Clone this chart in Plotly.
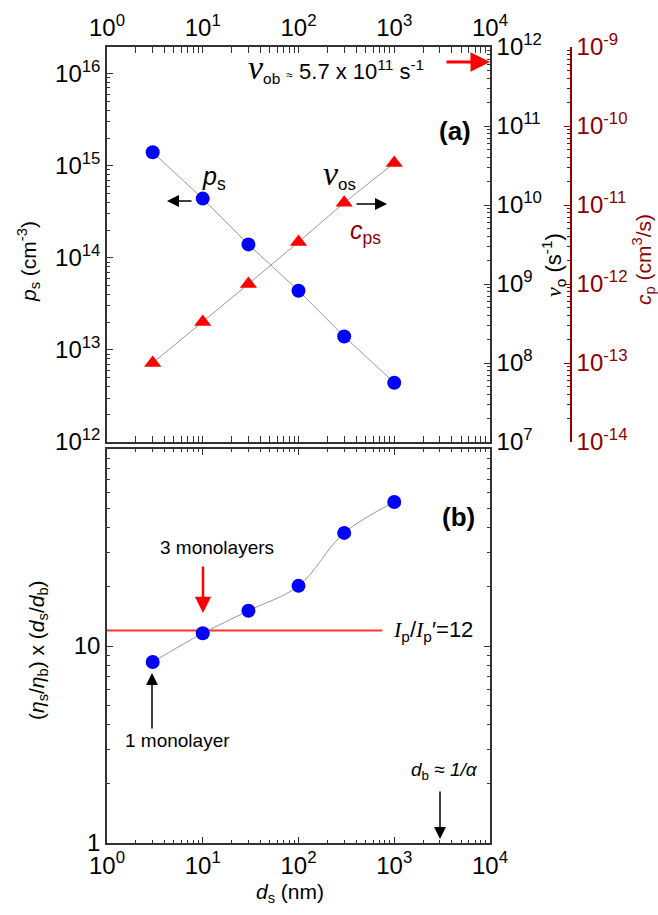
import plotly.graph_objects as go

# ---------------- data ----------------
d_s = [3, 10, 30, 100, 300, 1000]                      # nm
p_s = [1.4e15, 4.4e14, 1.4e14, 4.4e13, 1.4e13, 4.4e12]  # cm^-3
nu_os = [1.0e8, 3.3e8, 1.0e9, 3.4e9, 1.07e10, 3.4e10]  # s^-1
c_ps = [v * 1e-21 for v in nu_os]                      # cm^3/s (axis aligned)
ratio = [8.3, 11.6, 15.1, 20.2, 37.5, 53.8]            # (eta_s/eta_b) x (d_s/d_b)
ip_ratio = 12
ip_line_x = [1, 750]

x_tickvals = [1, 10, 100, 1000, 10000]
x_ticktext = ["10<sup>0</sup>", "10<sup>1</sup>", "10<sup>2</sup>", "10<sup>3</sup>", "10<sup>4</sup>"]
p_tickvals = [1e12, 1e13, 1e14, 1e15, 1e16]
p_ticktext = ["10<sup>12</sup>", "10<sup>13</sup>", "10<sup>14</sup>", "10<sup>15</sup>", "10<sup>16</sup>"]
nu_tickvals = [1e7, 1e8, 1e9, 1e10, 1e11, 1e12]
nu_ticktext = ["10<sup>7</sup>", "10<sup>8</sup>", "10<sup>9</sup>", "10<sup>10</sup>", "10<sup>11</sup>", "10<sup>12</sup>"]
cp_tickvals = [1e-14, 1e-13, 1e-12, 1e-11, 1e-10, 1e-9]
cp_ticktext = ["10<sup>-14</sup>", "10<sup>-13</sup>", "10<sup>-12</sup>", "10<sup>-11</sup>", "10<sup>-10</sup>", "10<sup>-9</sup>"]
r_tickvals = [1, 10]
r_ticktext = ["1", "10"]

# ---------------- layout geometry ----------------
W, H = 658, 915
L, R, T, B = 107, 40, 47, 72
PW, PH = W - L - R, H - T - B


def px(x):
    return (x - L) / PW


def py(y):
    return (H - B - y) / PH


def minor_vals(e0, e1):
    return [m * 10.0 ** e for e in range(e0, e1) for m in range(2, 10)]


FONT = "Arial, Liberation Sans, sans-serif"
DARKRED = "#8B0000"
AXC = "#333333"
TICKF = dict(family=FONT, size=24, color="black")

fig = go.Figure()

fig.add_trace(go.Scatter(x=d_s, y=p_s, xaxis="x", yaxis="y", mode="lines+markers",
                         line=dict(color="#999999", width=1),
                         marker=dict(color="#0000FF", size=14, symbol="circle"),
                         showlegend=False))
fig.add_trace(go.Scatter(x=d_s, y=nu_os, xaxis="x", yaxis="y2", mode="lines+markers",
                         line=dict(color="#999999", width=1),
                         marker=dict(color="#FF0000", size=15, symbol="triangle-up"),
                         showlegend=False))
fig.add_trace(go.Scatter(x=d_s, y=c_ps, xaxis="x", yaxis="y3", mode="markers",
                         marker=dict(opacity=0), hoverinfo="skip", showlegend=False))
fig.add_trace(go.Scatter(x=ip_line_x, y=[ip_ratio, ip_ratio], xaxis="x2", yaxis="y4", mode="lines",
                         line=dict(color="#FF3333", width=2), showlegend=False))
fig.add_trace(go.Scatter(x=d_s, y=ratio, xaxis="x2", yaxis="y4", mode="lines+markers",
                         line=dict(color="#999999", width=1, shape="spline", smoothing=1),
                         marker=dict(color="#0000FF", size=14, symbol="circle"),
                         showlegend=False))

xdom = [0, px(490)]
top_dom = [py(442), 1]
bot_dom = [0, py(449)]

common = dict(type="log", showline=True, linecolor=AXC, linewidth=1.5, ticks="inside",
              ticklen=6, tickwidth=1, tickcolor=AXC, showgrid=False, zeroline=False,
              tickfont=TICKF, tickmode="array")

fig.update_layout(
    width=W, height=H, margin=dict(l=L, r=R, t=T, b=B),
    paper_bgcolor="white", plot_bgcolor="white",
    font=dict(family=FONT, color="black"),
    xaxis=dict(common, anchor="y", domain=xdom, range=[0, 4], side="top", mirror="allticks",
               tickvals=x_tickvals, ticktext=x_ticktext,
               minor=dict(ticks="inside", ticklen=3, tickcolor=AXC, tickvals=minor_vals(0, 4))),
    yaxis=dict(common, anchor="x", domain=top_dom, range=[12, 16.29],
               tickvals=p_tickvals, ticktext=p_ticktext,
               minor=dict(ticks="inside", ticklen=3, tickcolor=AXC, tickvals=minor_vals(12, 17))),
    yaxis2=dict(common, anchor="x", overlaying="y", side="right", range=[7, 12],
                tickvals=nu_tickvals, ticktext=nu_ticktext,
                minor=dict(ticks="inside", ticklen=3, tickcolor=AXC, tickvals=minor_vals(7, 12))),
    yaxis3=dict(common, anchor="free", overlaying="y", side="right", position=px(571),
                range=[-14, -9], linecolor=DARKRED, tickcolor=DARKRED,
                tickfont=dict(family=FONT, size=24, color=DARKRED),
                tickvals=cp_tickvals, ticktext=cp_ticktext,
                minor=dict(ticks="inside", ticklen=3, tickcolor=DARKRED, tickvals=minor_vals(-14, -9))),
    xaxis2=dict(common, anchor="y4", domain=xdom, range=[0, 4], side="bottom", mirror="allticks",
                tickvals=x_tickvals, ticktext=x_ticktext,
                minor=dict(ticks="inside", ticklen=3, tickcolor=AXC, tickvals=minor_vals(0, 4))),
    yaxis4=dict(common, anchor="x2", domain=bot_dom, range=[0, 2], mirror="allticks",
                tickvals=r_tickvals, ticktext=r_ticktext,
                minor=dict(ticks="inside", ticklen=3, tickcolor=AXC, tickvals=minor_vals(0, 2))),
)

ann = []


def text(x, y, s, size=20, color="black", angle=0, bold=False):
    ann.append(dict(x=px(x), y=py(y), xref="paper", yref="paper", text=s, showarrow=False,
                    textangle=angle, xanchor="center", yanchor="middle",
                    font=dict(family=FONT, size=size, color=color)))


def arrow(x, y, dx, dy, color="black", width=1.5, size=1.0):
    ann.append(dict(x=px(x), y=py(y), xref="paper", yref="paper", text="", showarrow=True,
                    ax=dx, ay=dy, axref="pixel", ayref="pixel", arrowhead=2,
                    arrowsize=size, arrowwidth=width, arrowcolor=color, standoff=0))


SERIF = "Liberation Serif, Times New Roman, serif"
nu = f'<span style="font-family:{SERIF}"><i>ν</i></span>'

# panel (a)
text(336, 68, f'<span style="font-size:34px">{nu}</span><sub>ob</sub> <span style="font-size:12px">≈</span> 5.7 x 10<sup>11</sup> s<sup>-1</sup>', size=22)
arrow(490, 62, -45, 0, color="#FF0000", width=3, size=1.3)
text(455, 131, "<b>(a)</b>", size=26)
text(214, 178, "<i>p</i><sub>s</sub>", size=25)
arrow(167, 201, 26, 0, width=1.5, size=1.6)
text(339, 174, f'<span style="font-size:34px">{nu}</span><sub>os</sub>', size=24)
text(365, 232, "<i>c</i><sub>ps</sub>", size=25, color=DARKRED)
arrow(387, 204, -32, 0, width=1.5, size=1.6)

# axis titles
text(28, 262, "<i>p</i><sub>s</sub> (cm<sup>-3</sup>)", size=21, angle=-90)
text(553, 265, f"{nu}<sub>o</sub> (s<sup>-1</sup>)", size=22, angle=-90)
text(643, 260, "<i>c</i><sub>p</sub> (cm<sup>3</sup>/s)", size=21, color=DARKRED, angle=-90)
text(38, 650, "(<i>η</i><sub>s</sub>/<i>η</i><sub>b</sub>) x (<i>d</i><sub>s</sub>/<i>d</i><sub>b</sub>)", size=21, angle=-90)
text(290, 893, "<i>d</i><sub>s</sub> (nm)", size=21)

# panel (b)
text(458, 517, "<b>(b)</b>", size=26)
Ii = f'<span style="font-family:{SERIF}"><i>I</i></span>'
text(433, 631, f"{Ii}<sub>p</sub>/{Ii}<sub>p</sub>′=12", size=22)
text(217, 547, "3 monolayers", size=19)
arrow(203, 613, 0, -48, color="#FF0000", width=2.5, size=1.3)
text(177, 740, "1 monolayer", size=19)
arrow(152, 673, 0, 57, width=1.5, size=1.6)
text(444, 771, "<i>d</i><sub>b</sub> ≈ <i>1/α</i>", size=19)
arrow(440, 839, 0, -49, width=1.5, size=1.6)

fig.update_layout(annotations=ann)
fig.write_html("out.html")
